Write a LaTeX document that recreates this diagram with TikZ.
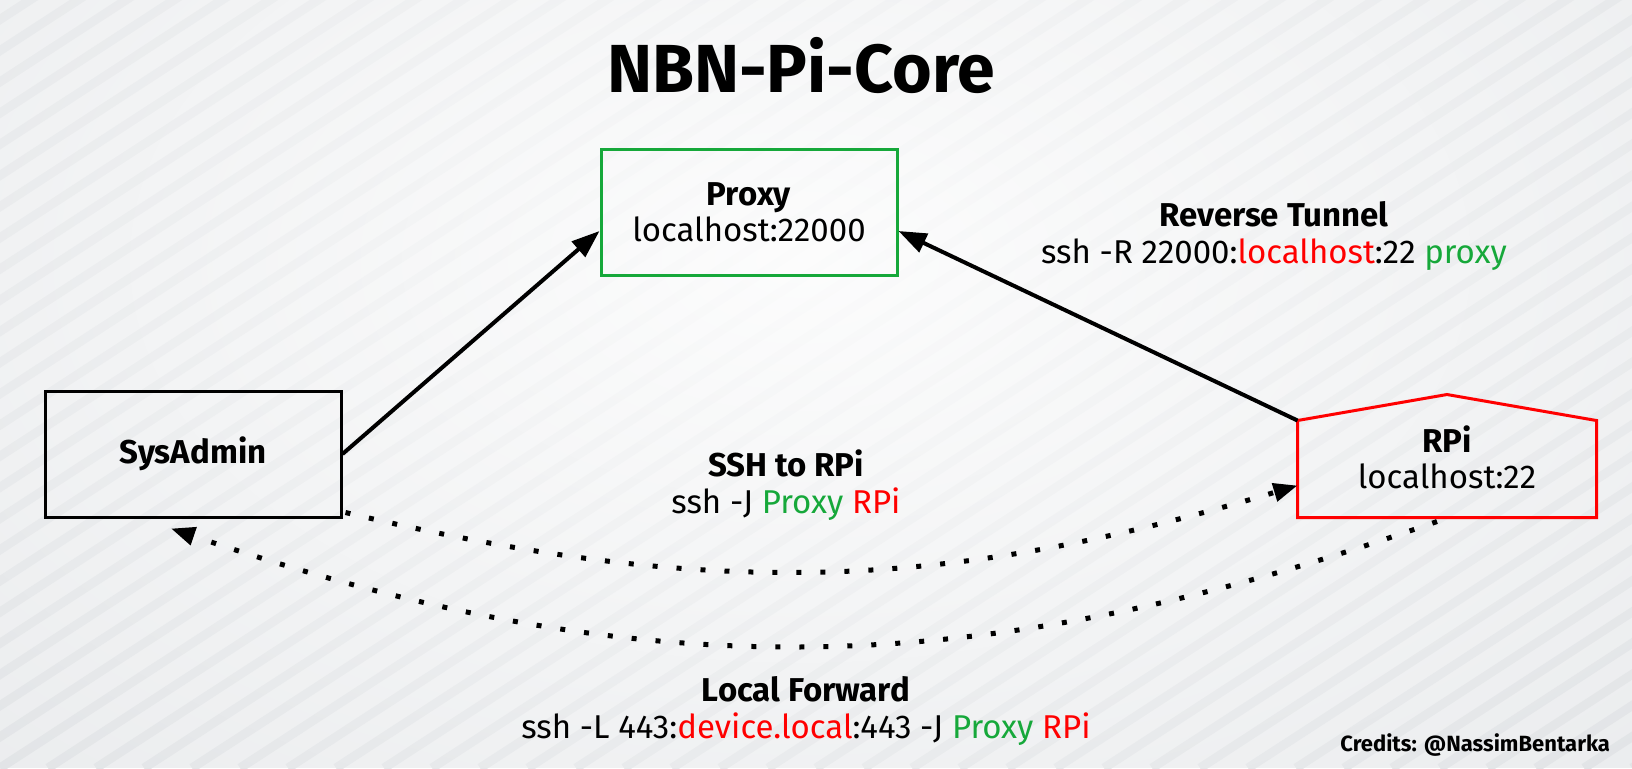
\documentclass[tikz,border=0pt]{standalone}
\usepackage{fontspec}
\setmainfont{Fira Sans}
\usetikzlibrary{arrows.meta, positioning, calc, fadings}

\definecolor{proxygreen}{RGB}{22,168,58}
\definecolor{rpired}{RGB}{255,0,0}
\definecolor{bgedge}{RGB}{231,233,235}
\definecolor{bgstripe}{RGB}{219,222,225}
\tikzfading[name=centerglow, inner color=transparent!0, outer color=transparent!100]

\begin{document}
\begin{tikzpicture}[
    x=0.5pt, y=-0.5pt,
    hostbox/.style={rectangle, draw=black, line width=1.5pt, minimum width=148pt, minimum height=63pt, align=center, font=\fontsize{16.5}{18}\selectfont},
    lbl/.style={align=center, font=\fontsize{16.5}{18.5}\selectfont},
    stripe/.style={bgstripe, line width=4.5pt},
    link/.style={-{Triangle[length=14pt,width=10pt]}, line width=2pt},
    tunnel/.style={-{Triangle[length=12pt,width=9pt]}, line width=2.5pt, dash pattern=on 2.5pt off 9.5pt}
]

% Background
\useasboundingbox (0,0) rectangle (1632,768);
\fill[bgedge] (0,0) rectangle (1632,768);
\begin{scope}
    \clip (0,0) rectangle (1632,768);
    \foreach \s in {-1344,-1296,...,1632}
        \draw[stripe] (\s,768) -- ++(1342,-872);
    \fill[white, fill opacity=0.9, path fading=centerglow] (800,260) ellipse (1500 and 900);
\end{scope}

% Nodes
\node[font=\fontsize{34}{40}\selectfont\bfseries] (title) at (801,65) {NBN-Pi-Core};
\node[hostbox, draw=proxygreen] (proxy) at (749,212) {\textbf{Proxy}\\localhost:22000};
\node[hostbox] (sysadmin) at (193,454) {\textbf{SysAdmin}};
\node[hostbox, draw=none, minimum height=59pt] (rpi) at (1447,457) {\textbf{RPi}\\localhost:22};

% RPi outline
\draw[rpired, line width=1.5pt] (rpi.south west) -- ++(0,-97) coordinate (rpi-nw)
    -- ($(rpi.south)+(0,-123)$) -- ($(rpi.south east)+(0,-97)$) -- (rpi.south east) -- cycle;
\coordinate (rpi-in) at ($(rpi.south west)+(0,-32)$);

% Labels
\node[lbl] (revlbl) at (1274,236) {\textbf{Reverse Tunnel}\\ssh -R 22000:\textcolor{rpired}{localhost}:22 \textcolor{proxygreen}{proxy}};
\node[lbl] (sshlbl) at (786,485) {\textbf{SSH to RPi}\\ssh -J \textcolor{proxygreen}{Proxy} \textcolor{rpired}{RPi}};
\node[lbl] (fwdlbl) at (806,711) {\textbf{Local Forward}\\ssh -L 443:\textcolor{rpired}{device.local}:443 -J \textcolor{proxygreen}{Proxy} \textcolor{rpired}{RPi}};
\node[font=\fontsize{11}{13}\selectfont\bfseries, anchor=base east] (credits) at (1617,751) {Credits: @NassimBentarka};

% Arrows
\draw[link] (sysadmin.east) -- ($(proxy.west)+(0,19)$);
\draw[link] (rpi-nw) -- ($(proxy.east)+(0,19)$);
\draw[tunnel] ($(sysadmin.south east)+(3,-6)$) to[bend right=15] (rpi-in);
\draw[tunnel] ($(rpi.south)+(-10,4)$) to[bend left=19] ($(sysadmin.south)+(-22,10)$);

\end{tikzpicture}
\end{document}
